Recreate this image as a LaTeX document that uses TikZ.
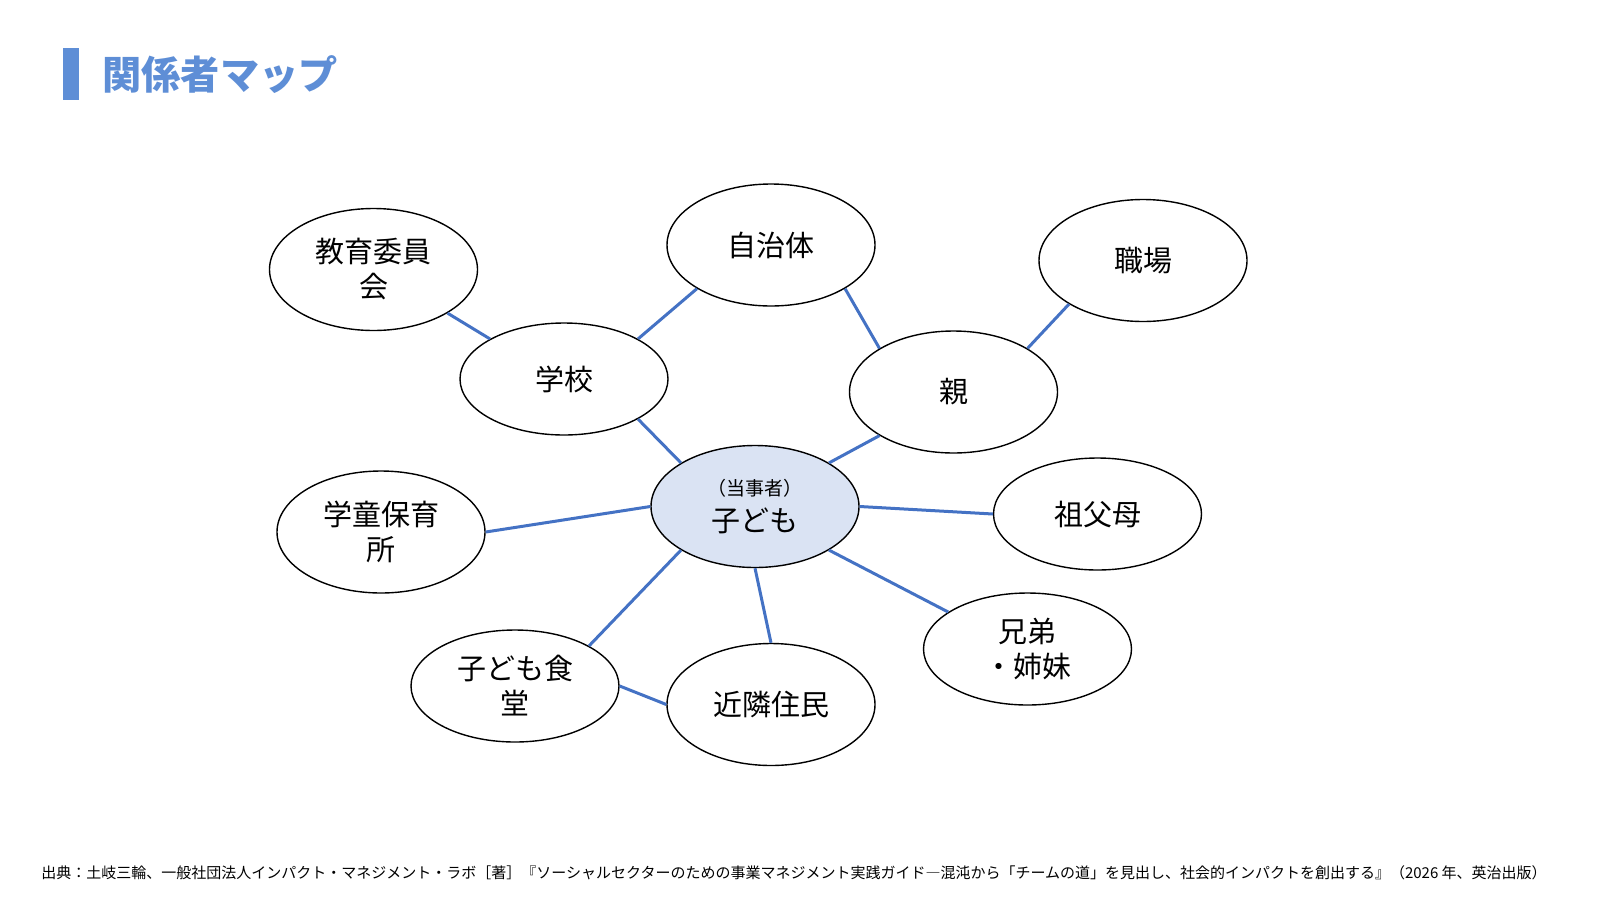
\documentclass[tikz,border=0pt]{standalone}
\usepackage{fontspec}
\setmainfont{Noto Sans CJK JP}
\usetikzlibrary{shapes.geometric}
\definecolor{linkblue}{RGB}{68,114,196}
\definecolor{titleblue}{RGB}{94,142,214}
\definecolor{centerfill}{RGB}{218,227,243}
\tikzset{
  bubble/.style={shape=ellipse, draw=black, line width=0.7pt, fill=white,
    minimum width=104pt, minimum height=61pt, inner sep=0pt, align=center,
    font=\fontsize{14.5pt}{17.5pt}\selectfont},
  lowbubble/.style={bubble, minimum height=56pt},
  link/.style={draw=linkblue, line width=1.5pt},
}
\begin{document}
\begin{tikzpicture}[x=0.5pt, y=-0.5pt]
\useasboundingbox (0,0) rectangle (1600,900);
% title
\fill[titleblue] (63,48) rectangle (78.6,100);
\node[anchor=west, text=titleblue, font=\fontsize{19.6pt}{22pt}\selectfont\bfseries, inner sep=0pt] (title) at (102,75) {関係者マップ};
% nodes
\node[bubble] (edu) at (373.5,269.5) {教育委員\\会};
\node[bubble] (jichitai) at (771,245) {自治体};
\node[bubble] (shokuba) at (1143,260.5) {職場};
\node[lowbubble] (gakko) at (564,379) {学校};
\node[bubble] (oya) at (953.5,392) {親};
\node[bubble, fill=centerfill] (ko) at (755,506.5) {{\fontsize{9.5pt}{16.3pt}\selectfont （当事者）}\\[0.6pt]子ども};
\node[lowbubble] (sofubo) at (1097.5,514) {祖父母};
\node[bubble] (gakudo) at (381,532) {学童保育\\所};
\node[lowbubble] (kyodai) at (1027.5,649) {兄弟\\・姉妹};
\node[lowbubble] (shokudo) at (515,686) {子ども食\\堂};
\node[bubble] (kinrin) at (771,704.5) {近隣住民};
% connectors
\draw[link] (edu.south east) -- (gakko.north west);
\draw[link] (gakko.north east) -- (jichitai.south west);
\draw[link] (gakko.south east) -- (ko.north west);
\draw[link] (jichitai.south east) -- (oya.north west);
\draw[link] (oya.north east) -- (shokuba.south west);
\draw[link] (oya.south west) -- (ko.north east);
\draw[link] (ko.east) -- (sofubo.west);
\draw[link] (ko.west) -- (gakudo.east);
\draw[link] (ko.south east) -- (kyodai.155);
\draw[link] (ko.south west) -- (shokudo.north east);
\draw[link] (ko.south) -- (kinrin.north);
\draw[link] (shokudo.east) -- (kinrin.west);
% footer
\node[anchor=west, inner sep=0pt, font=\fontsize{7.5pt}{9pt}\selectfont] (src) at (41,872.5) {出典：土岐三輪、一般社団法人インパクト・マネジメント・ラボ［著］『ソーシャルセクターのための事業マネジメント実践ガイド―混沌から「チームの道」を見出し、社会的インパクトを創出する』（2026 年、英治出版）};
\end{tikzpicture}
\end{document}
